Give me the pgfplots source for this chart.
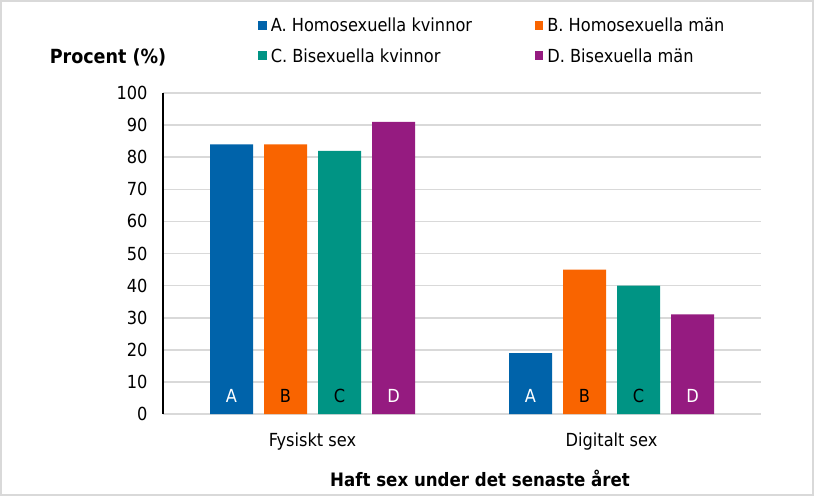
\documentclass[border=0pt]{standalone}
\usepackage{pgfplots}
\pgfplotsset{compat=1.18}
\usepackage{fontspec}
\setmainfont{DejaVu Sans Condensed}

\definecolor{cA}{RGB}{0,99,170}
\definecolor{cB}{RGB}{249,100,0}
\definecolor{cC}{RGB}{0,148,132}
\definecolor{cD}{RGB}{149,27,128}
\definecolor{gridgray}{RGB}{217,217,217}

\begin{document}
\begin{tikzpicture}
% outer frame
\draw[gridgray, line width=2pt] (1pt,1pt) rectangle (813pt,495pt);

\begin{axis}[
  at={(163pt,82pt)}, anchor=south west,
  scale only axis, width=598pt, height=321pt,
  ybar=11pt, bar width=43pt,
  xmin=-0.5, xmax=1.5, ymin=0, ymax=100,
  xtick={0,1}, xticklabels={Fysiskt sex, Digitalt sex},
  ytick={0,10,...,100},
  ymajorgrids, grid style={gridgray, line width=1.6pt},
  axis lines*=left,
  x axis line style={draw=none},
  y axis line style={black, line width=1.5pt, -},
  major tick length=0pt,
  tick label style={font=\fontsize{18}{21}\selectfont},
  /pgf/number format/assume math mode=true,
  yticklabel style={xshift=-12pt},
  xticklabel style={yshift=-15pt},
  legend columns=2,
  legend style={at={(0.159,1.24)}, anchor=north west, draw=none,
    font=\fontsize{18}{21}\selectfont, inner sep=0pt,
    /tikz/every odd row/.style={row sep=11pt}},
  legend cell align=left,
  legend image code/.code={\fill[#1, draw=none] (0pt,-4.5pt) rectangle (8.5pt,4.5pt);},
  clip=false,
]
\addplot[fill=cA, draw=none] coordinates {(0,84) (1,19)};
\addlegendentry{\makebox[264pt][l]{\hspace{2pt}A. Homosexuella kvinnor}}
\addplot[fill=cB, draw=none] coordinates {(0,84) (1,45)};
\addlegendentry{\hspace{2pt}B. Homosexuella män}
\addplot[fill=cC, draw=none] coordinates {(0,82) (1,40)};
\addlegendentry{\makebox[264pt][l]{\hspace{2pt}C. Bisexuella kvinnor}}
\addplot[fill=cD, draw=none] coordinates {(0,91) (1,31)};
\addlegendentry{\hspace{2pt}D. Bisexuella män}

% letters inside the bars
\pgfplotsinvokeforeach{0,1}{
  \node[white, font=\fontsize{18}{21}\selectfont] at ([xshift=-81pt]axis cs:#1,5.6) {A};
  \node[black, font=\fontsize{18}{21}\selectfont] at ([xshift=-27pt]axis cs:#1,5.6) {B};
  \node[black, font=\fontsize{18}{21}\selectfont] at ([xshift=27pt]axis cs:#1,5.6) {C};
  \node[white, font=\fontsize{18}{21}\selectfont] at ([xshift=81pt]axis cs:#1,5.6) {D};
}
\end{axis}

\node[font=\bfseries\fontsize{19.5}{23}\selectfont] at (108pt,439pt) {Procent (\%)};
\node[font=\bfseries\fontsize{18.5}{22}\selectfont] at (480pt,18pt) {Haft sex under det senaste året};
\end{tikzpicture}
\end{document}
